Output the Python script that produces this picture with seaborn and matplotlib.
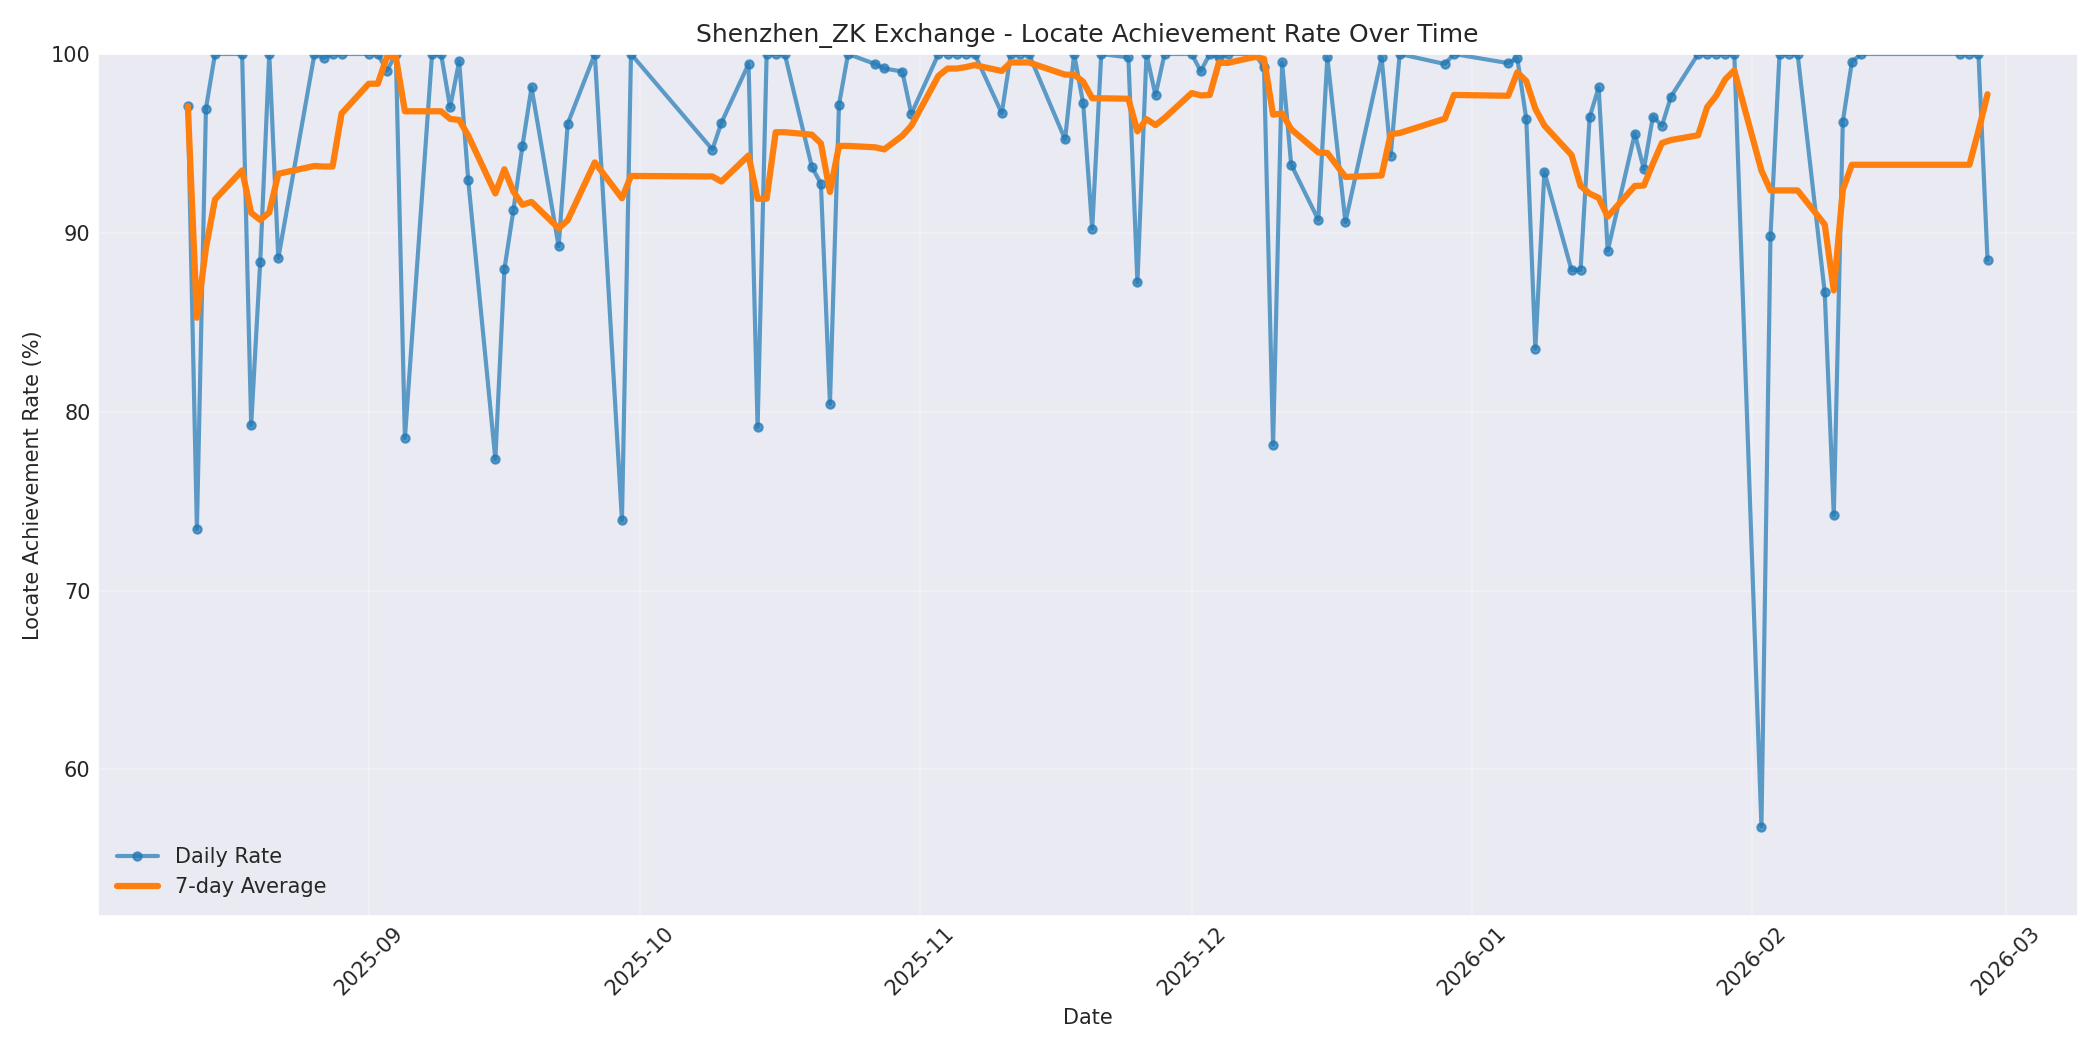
import matplotlib

matplotlib.use("Agg")

import matplotlib.dates as mdates
import matplotlib.pyplot as plt
import pandas as pd
import seaborn as sns


TITLE = "Shenzhen_ZK Exchange - Locate Achievement Rate Over Time"
BLUE = "#1f77b4"
ORANGE = "#ff7f0e"

# trading days
DATES = [
    "2025-08-12", "2025-08-13", "2025-08-14", "2025-08-15", "2025-08-18",
    "2025-08-19", "2025-08-20", "2025-08-21", "2025-08-22", "2025-08-26",
    "2025-08-27", "2025-08-28", "2025-08-29", "2025-09-01", "2025-09-02",
    "2025-09-03", "2025-09-04", "2025-09-05", "2025-09-08", "2025-09-09",
    "2025-09-10", "2025-09-11", "2025-09-12", "2025-09-15", "2025-09-16",
    "2025-09-17", "2025-09-18", "2025-09-19", "2025-09-22", "2025-09-23",
    "2025-09-26", "2025-09-29", "2025-09-30", "2025-10-09", "2025-10-10",
    "2025-10-13", "2025-10-14", "2025-10-15", "2025-10-16", "2025-10-17",
    "2025-10-20", "2025-10-21", "2025-10-22", "2025-10-23", "2025-10-24",
    "2025-10-27", "2025-10-28", "2025-10-30", "2025-10-31", "2025-11-03",
    "2025-11-04", "2025-11-05", "2025-11-06", "2025-11-07", "2025-11-10",
    "2025-11-11", "2025-11-12", "2025-11-13", "2025-11-17", "2025-11-18",
    "2025-11-19", "2025-11-20", "2025-11-21", "2025-11-24", "2025-11-25",
    "2025-11-26", "2025-11-27", "2025-11-28", "2025-12-01", "2025-12-02",
    "2025-12-03", "2025-12-04", "2025-12-05", "2025-12-08", "2025-12-09",
    "2025-12-10", "2025-12-11", "2025-12-12", "2025-12-15", "2025-12-16",
    "2025-12-18", "2025-12-22", "2025-12-23", "2025-12-24", "2025-12-29",
    "2025-12-30", "2026-01-05", "2026-01-06", "2026-01-07", "2026-01-08",
    "2026-01-09", "2026-01-12", "2026-01-13", "2026-01-14", "2026-01-15",
    "2026-01-16", "2026-01-19", "2026-01-20", "2026-01-21", "2026-01-22",
    "2026-01-23", "2026-01-26", "2026-01-27", "2026-01-28", "2026-01-29",
    "2026-01-30", "2026-02-02", "2026-02-03", "2026-02-04", "2026-02-05",
    "2026-02-06", "2026-02-09", "2026-02-10", "2026-02-11", "2026-02-12",
    "2026-02-13", "2026-02-24", "2026-02-25", "2026-02-26", "2026-02-27",
]

DAILY_RATE = [
    97.08, 73.43, 96.95, 100.0, 100.0,
    79.25, 88.35, 100.0, 88.58, 100.0,
    99.78, 100.0, 100.0, 100.0, 100.0,
    99.06, 100.0, 78.52, 100.0, 100.0,
    97.02, 99.59, 92.96, 77.34, 87.96,
    91.27, 94.87, 98.13, 89.25, 96.10,
    100.0, 73.93, 100.0, 94.66, 96.16,
    99.44, 79.14, 100.0, 100.0, 100.0,
    93.69, 92.75, 80.43, 97.17, 100.0,
    99.44, 99.19, 99.02, 96.65, 100.0,
    100.0, 100.0, 100.0, 100.0, 96.69,
    100.0, 100.0, 100.0, 95.22, 100.0,
    97.24, 90.22, 100.0, 99.81, 87.23,
    100.0, 97.69, 100.0, 100.0, 99.04,
    100.0, 99.81, 100.0, 100.0, 99.25,
    78.15, 99.53, 93.82, 90.73, 99.81,
    90.60, 99.81, 94.31, 100.0, 99.44,
    100.0, 99.49, 99.78, 96.36, 83.52,
    93.41, 87.92, 87.92, 96.46, 98.13,
    88.99, 95.54, 93.56, 96.50, 95.99,
    97.62, 100.0, 100.0, 100.0, 100.0,
    100.0, 56.80, 89.81, 100.0, 100.0,
    100.0, 86.67, 74.21, 96.22, 99.55,
    100.0, 100.0, 100.0, 100.0, 88.48,
]


def main() -> None:
    sns.set_style("darkgrid")
    plt.rcParams["font.family"] = ["DejaVu Sans"]
    plt.rcParams["xtick.major.size"] = 0
    plt.rcParams["ytick.major.size"] = 0

    df = pd.DataFrame({"date": pd.to_datetime(DATES), "rate": DAILY_RATE})
    df["avg"] = df["rate"].rolling(7, min_periods=1).mean()

    fig, ax = plt.subplots(figsize=(14, 7), dpi=150)
    sns.lineplot(
        data=df, x="date", y="rate", ax=ax,
        marker="o", markersize=4, linewidth=2, alpha=0.7,
        color=BLUE, markeredgecolor=BLUE, markeredgewidth=1,
        label="Daily Rate",
    )
    sns.lineplot(
        data=df, x="date", y="avg", ax=ax,
        linewidth=3, color=ORANGE, label="7-day Average",
    )

    ax.set_ylim(df["rate"].min() - 5, 100)
    ax.xaxis.set_major_locator(mdates.MonthLocator())
    ax.xaxis.set_major_formatter(mdates.DateFormatter("%Y-%m"))
    plt.setp(ax.get_xticklabels(), rotation=45)
    ax.grid(True, alpha=0.3)

    ax.set_title(TITLE)
    ax.set_xlabel("Date")
    ax.set_ylabel("Locate Achievement Rate (%)")
    ax.legend(loc="lower left", frameon=False)

    plt.tight_layout()
    plt.savefig("out.png", dpi=150)
    plt.close()


if __name__ == "__main__":
    main()
